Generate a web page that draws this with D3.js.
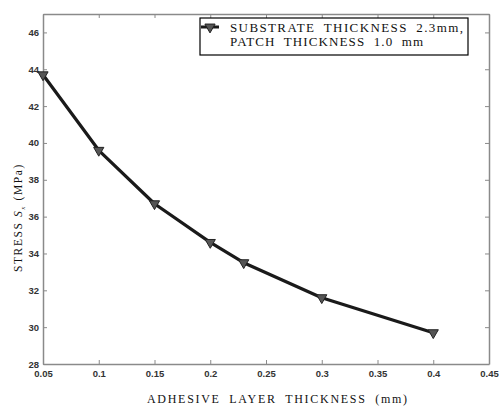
<!DOCTYPE html>
<html><head><meta charset="utf-8">
<script src="https://cdn.jsdelivr.net/npm/d3@7"></script>
<style>body{margin:0;background:#fff}svg{display:block}</style>
</head><body>
<svg id="c" width="499" height="407"></svg>
<script>
const xValues = [0.05, 0.1, 0.15, 0.2, 0.23, 0.3, 0.4];
const stressValues = [43.7, 39.6, 36.7, 34.6, 33.5, 31.6, 29.7];
const xTicks = [0.05, 0.1, 0.15, 0.2, 0.25, 0.3, 0.35, 0.4, 0.45];
const yTicks = [28, 30, 32, 34, 36, 38, 40, 42, 44, 46];
const legendLines = ["SUBSTRATE THICKNESS 2.3mm,", "PATCH THICKNESS 1.0 mm"];

const svg = d3.select("#c");
const L = 43, T = 14, R = 489, B = 364;
const x = d3.scaleLinear().domain([0.05, 0.45]).range([L, R]);
const y = d3.scaleLinear().domain([28, 47]).range([B, T]);
const axisColor = "#8a8a8a";
const fmt = d => String(d);
const serif = "'Liberation Serif', 'Times New Roman', serif";

function styleAxis(g) {
  g.select(".domain").attr("stroke", axisColor).attr("stroke-width", 1.5);
  g.selectAll(".tick line").attr("stroke", axisColor).attr("stroke-width", 1);
  g.selectAll(".tick text").attr("fill", "#333")
    .style("font-family", "Arial, 'Liberation Sans', sans-serif")
    .style("font-size", "9.5px").style("font-weight", "bold");
}
const gb = svg.append("g").attr("transform", `translate(0,${B})`)
  .call(d3.axisBottom(x).tickValues(xTicks).tickFormat(fmt).tickSizeInner(-4).tickSizeOuter(0).tickPadding(6));
styleAxis(gb);
const gl = svg.append("g").attr("transform", `translate(${L},0)`)
  .call(d3.axisLeft(y).tickValues(yTicks).tickFormat(fmt).tickSizeInner(-4).tickSizeOuter(0).tickPadding(4));
styleAxis(gl);
const gt = svg.append("g").attr("transform", `translate(0,${T})`)
  .call(d3.axisTop(x).tickValues(xTicks).tickFormat("").tickSizeInner(-4).tickSizeOuter(0));
styleAxis(gt);
gt.selectAll(".tick text").remove();
const gr = svg.append("g").attr("transform", `translate(${R},0)`)
  .call(d3.axisRight(y).tickValues(yTicks).tickFormat("").tickSizeInner(-4).tickSizeOuter(0));
styleAxis(gr);
gr.selectAll(".tick text").remove();

const data = xValues.map((v, i) => ({x: v, y: stressValues[i]}));
svg.append("path").datum(data)
  .attr("fill", "none").attr("stroke", "#1a1a1a").attr("stroke-width", 3.2)
  .attr("stroke-linejoin", "round")
  .attr("d", d3.line().x(d => x(d.x)).y(d => y(d.y)));

const tri = d3.symbol().type(d3.symbolTriangle).size(45);
svg.selectAll(".m").data(data).join("path")
  .attr("d", tri)
  .attr("transform", d => `translate(${x(d.x)},${y(d.y)}) rotate(180)`)
  .attr("fill", "#555").attr("stroke", "#222").attr("stroke-width", 1);

// legend
const lg = svg.append("g");
lg.append("rect").attr("x", 200).attr("y", 18).attr("width", 268).attr("height", 37)
  .attr("fill", "#fff").attr("stroke", "#000").attr("stroke-width", 1.2);
lg.append("line").attr("x1", 201).attr("x2", 219).attr("y1", 27).attr("y2", 27)
  .attr("stroke", "#1a1a1a").attr("stroke-width", 3);
lg.append("path").attr("d", tri).attr("transform", "translate(210,27) rotate(180)")
  .attr("fill", "#555").attr("stroke", "#222");
const legendLens = [233, 193];
legendLines.forEach((t, i) => {
  lg.append("text").attr("x", 230).attr("y", 32 + i * 13.5).text(t)
    .attr("textLength", legendLens[i]).attr("lengthAdjust", "spacing")
    .style("word-spacing", "4px")
    .style("font-family", serif).style("font-size", "13px").attr("fill", "#111");
});

svg.append("text").attr("x", 147).attr("y", 403)
  .text("ADHESIVE LAYER THICKNESS (mm)")
  .attr("textLength", 260).attr("lengthAdjust", "spacing")
  .style("word-spacing", "4px")
  .style("font-family", serif).style("font-size", "12px").attr("fill", "#111");

const yl = svg.append("text").attr("transform", "translate(22,272) rotate(-90)")
  .attr("text-anchor", "start")
  .style("font-family", serif).style("font-size", "11.5px").style("letter-spacing", "1.6px").attr("fill", "#111");
yl.append("tspan").text("STRESS  ");
yl.append("tspan").text("S").style("font-style", "italic");
yl.append("tspan").text("x").attr("dy", 3).style("font-size", "7px").style("font-style", "italic");
yl.append("tspan").text("  (MPa)").attr("dy", -3);
</script>
</body></html>
